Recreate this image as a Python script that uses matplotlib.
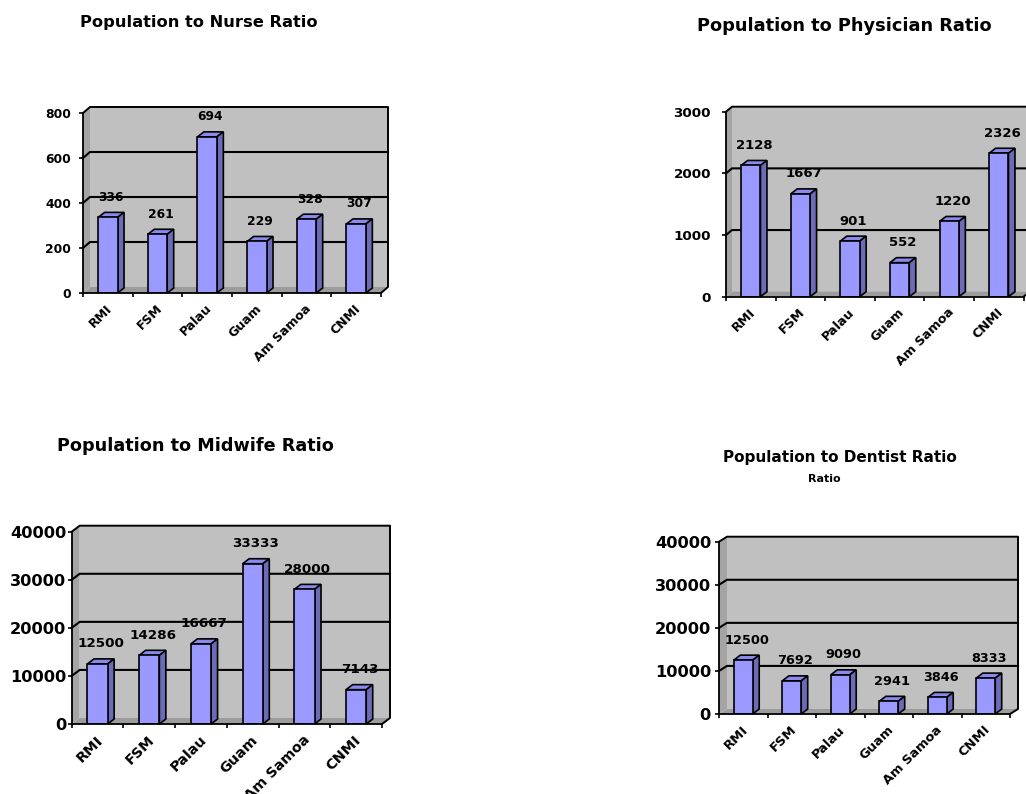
import matplotlib
matplotlib.use("Agg")
import matplotlib.pyplot as plt
from matplotlib.patches import Polygon
from matplotlib.lines import Line2D

# ---- data -------------------------------------------------------------
categories = ["RMI", "FSM", "Palau", "Guam", "Am Samoa", "CNMI"]

nurse_ratio = [336, 261, 694, 229, 328, 307]
physician_ratio = [2128, 1667, 901, 552, 1220, 2326]
midwife_ratio = [12500, 14286, 16667, 33333, 28000, 7143]
dentist_ratio = [12500, 7692, 9090, 2941, 3846, 8333]

nurse_ticks = [0, 200, 400, 600, 800]
physician_ticks = [0, 1000, 2000, 3000]
midwife_ticks = [0, 10000, 20000, 30000, 40000]
dentist_ticks = [0, 10000, 20000, 30000, 40000]

# ---- figure -----------------------------------------------------------
W, H = 1026, 794
DPI = 100
fig = plt.figure(figsize=(W / DPI, H / DPI), dpi=DPI)
fig.patch.set_facecolor("white")

PX = 72.0 / DPI  # points per pixel

WALL = "#C0C0C0"
SIDE_WALL = "#A4A4A4"
FLOOR = "#9C9C9C"
BAR_FRONT = "#9999FF"
BAR_SIDE = "#6B6BB8"
BAR_TOP = "#8A8AEE"


def chart(front, values, ticks, depth, fonts, pads):
    """Pseudo-3D column chart. front = (left, right, top, bottom) in pixels."""
    x0, x1, yt, yb = front
    dx, dy = depth
    ytick_fs, val_fs, cat_fs = fonts
    ypad = pads
    n = len(values)
    ymax = ticks[-1]

    ax = fig.add_axes([x0 / W, 1 - yb / H, (x1 - x0) / W, (yb - yt) / H])
    ax.set_xlim(-0.5, n - 0.5)
    ax.set_ylim(0, ymax)
    ax.set_facecolor("none")

    # pixel -> data conversion factors
    ux = n / (x1 - x0)
    uy = ymax / (yb - yt)
    ddx, ddy = dx * ux, dy * uy
    left, right = -0.5, n - 0.5

    # back wall
    ax.add_patch(Polygon([(left + ddx, ddy), (right + ddx, ddy),
                          (right + ddx, ymax + ddy), (left + ddx, ymax + ddy)],
                         closed=True, fc=WALL, ec="none", zorder=0, clip_on=False))
    # side wall
    ax.add_patch(Polygon([(left, 0), (left, ymax), (left + ddx, ymax + ddy),
                          (left + ddx, ddy)],
                         closed=True, fc=SIDE_WALL, ec="none", zorder=0, clip_on=False))
    # floor
    ax.add_patch(Polygon([(left, 0), (right, 0), (right + ddx, ddy),
                          (left + ddx, ddy)],
                         closed=True, fc=FLOOR, ec="none", zorder=0, clip_on=False))

    # wall outline
    ax.add_line(Line2D([left, left + ddx, right + ddx, right + ddx, right],
                       [ymax, ymax + ddy, ymax + ddy, ddy, 0],
                       color="black", lw=1.4, zorder=1, clip_on=False))
    # gridlines
    for v in ticks[1:-1]:
        ax.add_line(Line2D([left, left + ddx, right + ddx],
                           [v, v + ddy, v + ddy],
                           color="black", lw=1.5, zorder=1, clip_on=False))

    # bars
    xs = list(range(n))
    bw = 0.39
    bdx, bdy = 6.5 * ux, 5.0 * uy
    ax.bar(xs, values, width=bw, color=BAR_FRONT, edgecolor="black",
           linewidth=1.2, zorder=4)
    for x, v in zip(xs, values):
        l, r = x - bw / 2, x + bw / 2
        ax.add_patch(Polygon([(l, v), (r, v), (r + bdx, v + bdy), (l + bdx, v + bdy)],
                             closed=True, fc=BAR_TOP, ec="black", lw=1.2,
                             zorder=3, clip_on=False))
        ax.add_patch(Polygon([(r, 0), (r, v), (r + bdx, v + bdy), (r + bdx, bdy)],
                             closed=True, fc=BAR_SIDE, ec="black", lw=1.2,
                             zorder=3, clip_on=False))
        ax.annotate(f"{v}", xy=(x + bdx / 2, v), xytext=(0, 20 * PX),
                    textcoords="offset points", ha="center", va="center",
                    fontsize=val_fs, fontweight="bold", zorder=6,
                    annotation_clip=False)

    # axes
    for s in ("top", "right"):
        ax.spines[s].set_visible(False)
    for s in ("left", "bottom"):
        ax.spines[s].set_linewidth(1.3)
        ax.spines[s].set_zorder(5)
    ax.set_yticks(ticks)
    ax.set_yticklabels([str(t) for t in ticks], fontsize=ytick_fs,
                       fontweight="bold")
    ax.tick_params(axis="y", length=4 * PX, width=1.2, pad=ypad * PX)
    ax.set_xticks([i - 0.5 for i in range(n + 1)])
    ax.set_xticklabels([])
    ax.tick_params(axis="x", length=4 * PX, width=1.2)

    for x, c in zip(xs, categories):
        ax.annotate(c, xy=(x, 0), xytext=(-2 * PX, -9 * PX),
                    textcoords="offset points", rotation=45, ha="right",
                    va="top", rotation_mode="anchor", fontsize=cat_fs,
                    fontweight="bold", annotation_clip=False)
    return ax


chart((83, 381, 113, 293), nurse_ratio, nurse_ticks, (7, 6),
      (8.9, 8.8, 9.0), 8)
chart((726, 1023.6, 111.7, 296.7), physician_ratio, physician_ticks, (6, 5),
      (9.7, 9.5, 9.2), 11)
chart((71.7, 382, 531.7, 724), midwife_ratio, midwife_ticks, (8, 6),
      (11.7, 9.7, 10.4), 1.5)
chart((719, 1010, 541.7, 714), dentist_ratio, dentist_ticks, (8, 5),
      (11.7, 9.3, 9.4), 4)

# titles
def title(x, y, s, size):
    fig.text(x / W, 1 - y / H, s, ha="center", va="center", fontsize=size,
             fontweight="bold")

title(198.7, 22, "Population to Nurse Ratio", 11.7)
title(844.5, 25.7, "Population to Physician Ratio", 12.8)
title(195.4, 445.7, "Population to Midwife Ratio", 12.7)
title(839.7, 458, "Population to Dentist Ratio", 11.0)
title(824, 479, "Ratio", 8.0)

fig.savefig("out.png", dpi=DPI)
